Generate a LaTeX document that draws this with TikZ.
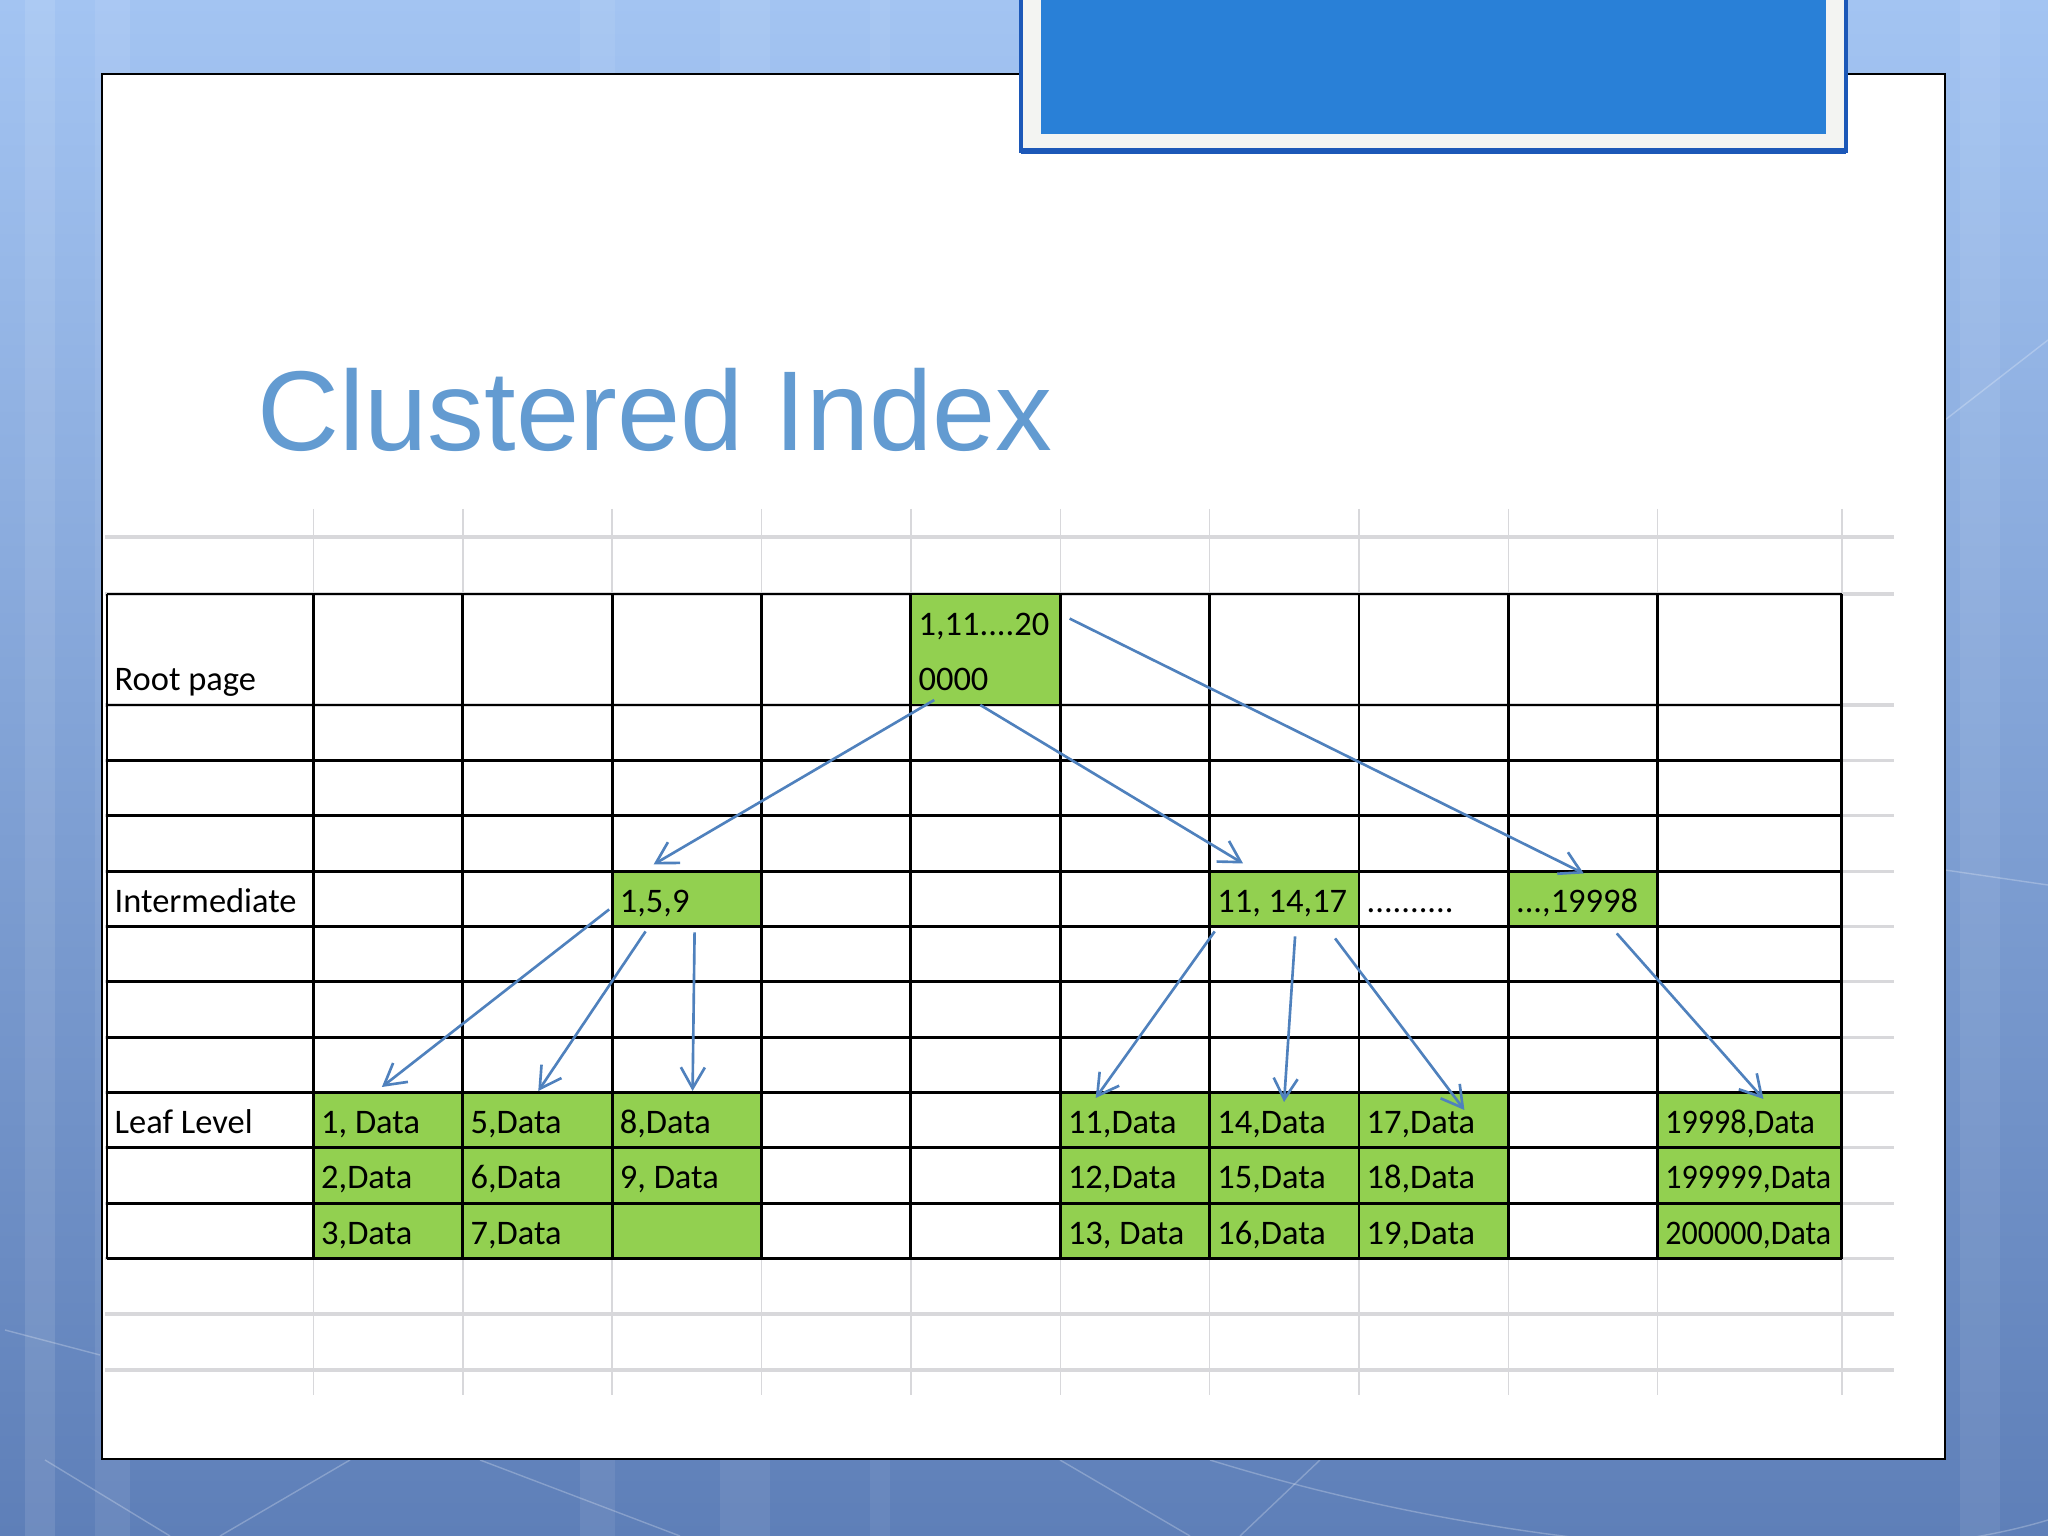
\documentclass[tikz,border=0pt]{standalone}
\usepackage{fontspec}
\setmainfont{Carlito}
\newfontfamily\titlefont{Liberation Sans}
\usetikzlibrary{arrows.meta,calc}

\definecolor{bgtop}{RGB}{163,196,242}
\definecolor{bgbot}{RGB}{94,127,184}
\definecolor{framefill}{RGB}{243,244,242}
\definecolor{frameblue}{RGB}{28,88,184}
\definecolor{headblue}{RGB}{41,128,215}
\definecolor{titleblue}{RGB}{99,155,209}
\definecolor{gridgray}{RGB}{216,216,219}
\definecolor{cellgreen}{RGB}{146,208,80}
\definecolor{arrowblue}{RGB}{79,129,189}

\tikzset{
  cell/.style={anchor=south west, inner xsep=0.07cm, inner ysep=0pt,
    minimum width=1.4936cm, minimum height=0.5536cm, text width=1.3536cm,
    align=flush left, text height=0.42cm, text depth=0.135cm,
    font=\fontsize{9.8}{15.8}\selectfont},
  green/.style={cell, fill=cellgreen},
  wide/.style={minimum width=1.841cm, text width=1.701cm,
    font=\fontsize{9.8}{15.8}\selectfont\addfontfeature{FakeStretch=0.93}},
  first/.style={minimum width=2.065cm, text width=1.925cm},
  tableline/.style={black, line width=0.8pt},
  faint/.style={gridgray, line width=0.45pt},
  link/.style={->, arrowblue, line width=0.75pt},
}

\begin{document}
\begin{tikzpicture}[x=1cm, y=-1cm, >={Straight Barb[length=2.1mm,width=2.4mm]}]
  \useasboundingbox (0,0) rectangle (20.48,15.36);

  % fondo
  \shade[top color=bgtop, bottom color=bgbot] (0,0) rectangle (20.48,15.36);
  \fill[white, opacity=0.10] (0.25,0) rectangle (0.55,15.36); % franja
  \fill[white, opacity=0.08] (0.95,0) rectangle (1.30,15.36); % franja
  \fill[white, opacity=0.07] (5.80,0) rectangle (6.15,15.36); % franja
  \fill[white, opacity=0.07] (7.20,0) rectangle (7.70,15.36); % franja
  \fill[white, opacity=0.06] (8.70,0) rectangle (8.90,15.36); % franja
  \fill[white, opacity=0.08] (19.60,0) rectangle (20.00,15.36); % franja
  \draw[white, opacity=0.25] (0.05,13.30) -- (1.00,13.55); % linea
  \draw[white, opacity=0.25] (0.45,14.60) -- (1.70,15.36); % linea
  \draw[white, opacity=0.25] (3.50,14.60) -- (2.20,15.36); % linea
  \draw[white, opacity=0.25] (4.80,14.60) -- (6.80,15.36); % linea
  \draw[white, opacity=0.25] (10.60,14.60) -- (11.90,15.36); % linea
  \draw[white, opacity=0.25] (13.20,14.60) -- (12.40,15.36); % linea
  \draw[white, opacity=0.25] (12.10,14.60) .. controls (15.00,15.50) and (18.50,15.80) .. (20.48,15.20); % curva
  \draw[white, opacity=0.25] (19.45,4.20) -- (20.48,3.40); % linea
  \draw[white, opacity=0.25] (19.45,8.70) -- (20.48,8.85); % linea

  % hoja
  \draw[black, line width=0.6pt, fill=white] (1.02,0.74) rectangle (19.45,14.59);

  % cabecera
  \draw[frameblue, line width=0.9pt, fill=framefill] (10.21,-0.10) rectangle (18.46,1.51);
  \draw[frameblue, line width=1.6pt] (10.21,1.51) -- (18.46,1.51); % borde inferior
  \fill[headblue] (10.41,-0.10) rectangle (18.26,1.34);

  % titulo
  \node[anchor=base west, inner sep=0pt, text=titleblue,
    font=\titlefont\fontsize{32.3}{36}\selectfont] (title) at (2.57,4.51) {Clustered Index};

  % cuadricula clara
  \foreach \y in {5.37,5.94,7.05,7.604,8.157,8.711,9.264,9.818,10.372,10.925,11.479,12.032,12.586,13.14,13.70}
    \draw[gridgray, line width=0.9pt] (1.05,\y) -- (18.94,\y);
  \foreach \x in {3.135,4.629,6.122,7.616,9.109,10.603,12.097,13.590,15.084,16.577,18.418}
    \draw[faint] (\x,5.09) -- (\x,13.95);

  % celdas
  \node[cell, first, minimum height=1.107cm, text height=0.972cm] (rootlbl) at (1.07,7.05) {Root page};
  \node[green, minimum height=1.107cm, text depth=0.69cm] (root) at (9.109,7.05) {1,11....20\\0000};

  \node[cell, first] (midlbl) at (1.07,9.264) {Intermediate};
  \node[green] (mid1) at (6.122,9.264) {1,5,9};
  \node[green] (mid2) at (12.097,9.264) {11, 14,17};
  \node[cell] (gap) at (13.590,9.264) {..........};
  \node[green] (mid3) at (15.084,9.264) {...,19998};

  \node[cell, first] (leaflbl) at (1.07,11.479) {Leaf Level};
  \node[green] (d1) at (3.135,11.479) {1, Data};
  \node[green] (d2) at (3.135,12.032) {2,Data};
  \node[green] (d3) at (3.135,12.586) {3,Data};
  \node[green] (d5) at (4.629,11.479) {5,Data};
  \node[green] (d6) at (4.629,12.032) {6,Data};
  \node[green] (d7) at (4.629,12.586) {7,Data};
  \node[green] (d8) at (6.122,11.479) {8,Data};
  \node[green] (d9) at (6.122,12.032) {9, Data};
  \node[green] (dnone) at (6.122,12.586) {};
  \node[green] (d11) at (10.603,11.479) {11,Data};
  \node[green] (d12) at (10.603,12.032) {12,Data};
  \node[green] (d13) at (10.603,12.586) {13, Data};
  \node[green] (d14) at (12.097,11.479) {14,Data};
  \node[green] (d15) at (12.097,12.032) {15,Data};
  \node[green] (d16) at (12.097,12.586) {16,Data};
  \node[green] (d17) at (13.590,11.479) {17,Data};
  \node[green] (d18) at (13.590,12.032) {18,Data};
  \node[green] (d19) at (13.590,12.586) {19,Data};
  \node[green, wide] (dlast1) at (16.577,11.479) {19998,Data};
  \node[green, wide] (dlast2) at (16.577,12.032) {199999,Data};
  \node[green, wide] (dlast3) at (16.577,12.586) {200000,Data};

  % tabla
  \foreach \y in {5.94,7.05,7.604,8.157,8.711,9.264,9.818,10.372,10.925,11.479,12.032,12.586}
    \draw[tableline] (1.07,\y) -- (18.418,\y);
  \foreach \x in {1.07,3.135,4.629,6.122,7.616,9.109,10.603,12.097,13.590,15.084,16.577,18.418}
    \draw[tableline] (\x,5.94) -- (\x,12.586);

  % flechas raiz
  \draw[link] ($(root.south)+(-0.52,-0.05)$) -- ($(mid1.north)+(-0.34,-0.05)$);
  \draw[link] ($(root.south)+(-0.06,0)$) -- ($(mid2.north)+(-0.42,-0.06)$);
  \draw[link] ($(root.north east)+(0.08,0.26)$) -- ($(mid3.north)+(0,0.04)$);

  % flechas nivel intermedio
  \draw[link] ($(mid1.south west)+(-0.03,-0.17)$) -- ($(d1.north)+(-0.07,-0.04)$);
  \draw[link] ($(mid1.south)+(-0.42,0.05)$) -- (d5.north);
  \draw[link] ($(mid1.south)+(0.07,0.06)$) -- ($(d8.north)+(0.05,0)$);
  \draw[link] ($(mid2.south west)+(0.05,0.05)$) -- ($(d11.north)+(-0.40,0.07)$);
  \draw[link] ($(mid2.south)+(0.10,0.10)$) -- ($(d14.north)+(-0.01,0.11)$);
  \draw[link] ($(mid2.south)+(0.50,0.12)$) -- ($(d17.north)+(0.30,0.19)$);
  \draw[link] ($(mid3.south)+(0.33,0.07)$) -- ($(dlast1.north)+(0.13,0.08)$);

\end{tikzpicture}
\end{document}
